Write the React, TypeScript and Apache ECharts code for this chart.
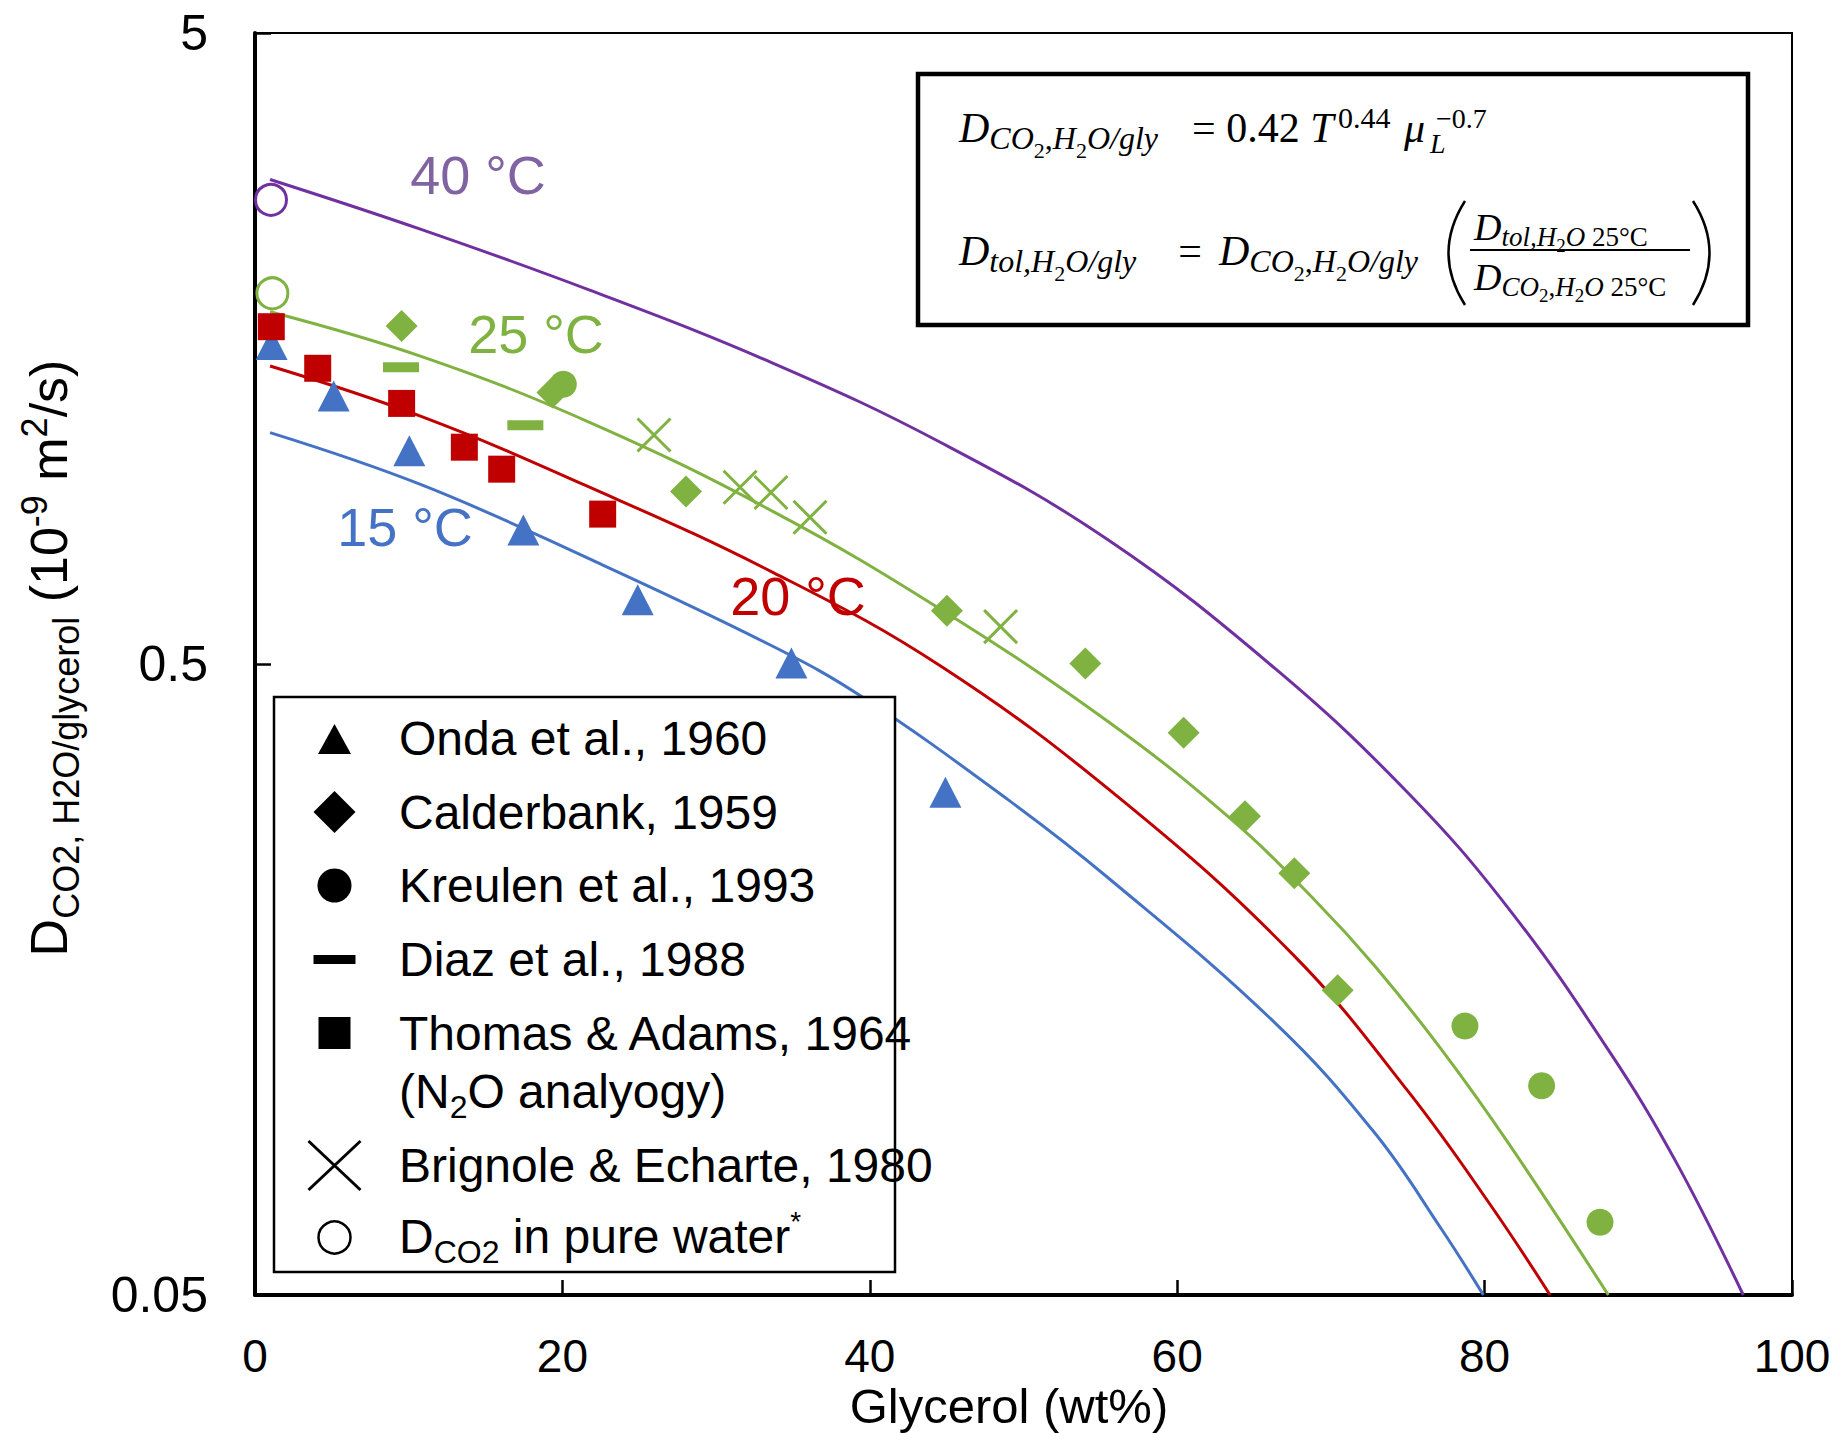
import React, { useEffect, useRef } from "react";
import * as echarts from "echarts";

const BLUE = "#4472C4";
const RED = "#C00000";
const GREEN = "#7FB241";
const PURPLE = "#7030A0";
const PURPLE_LABEL = "#8064A2";
const SANS = '"Liberation Sans", Arial, Helvetica, sans-serif';
const SERIF = '"Liberation Serif", "Times New Roman", serif';

// axes
const xTickValues = [0, 20, 40, 60, 80, 100];
const yTickValues = [0.05, 0.5, 5];

// model curves [glycerol wt%, D (1e-9 m2/s)]
const curve15C = [
  [0.98, 1.163], [10.85, 0.961], [21.69, 0.735], [33.72, 0.533], [39.47, 0.444],
  [49.01, 0.3045], [55.52, 0.229], [66.36, 0.135], [72.87, 0.0902], [77.21, 0.0635], [79.92, 0.05],
];
const curve20C = [
  [0.98, 1.483], [10.85, 1.233], [21.69, 0.955], [33.72, 0.698], [44.68, 0.495],
  [56.39, 0.3045], [67.55, 0.173], [75.04, 0.105], [80.46, 0.069], [84.26, 0.05],
];
const curve25C = [
  [0.98, 1.808], [10.85, 1.535], [21.69, 1.21], [33.72, 0.872], [44.68, 0.609], [55.52, 0.405],
  [63.43, 0.2848], [68.97, 0.211], [72.87, 0.166], [77.21, 0.1223], [81.55, 0.087], [88.05, 0.05],
];
const curve40C = [
  [0.98, 2.93], [10.85, 2.44], [21.69, 1.96], [33.72, 1.498], [44.68, 1.12], [55.52, 0.786],
  [66.36, 0.492], [75.04, 0.312], [81.55, 0.205], [88.05, 0.1223], [92.39, 0.0818], [96.83, 0.05],
];

// experimental data
const onda1960 = [[1.08, 1.605], [5.12, 1.329], [10.04, 1.089], [17.46, 0.815], [24.9, 0.632], [34.9, 0.502], [44.92, 0.313]];
const thomasAdams1964 = [[1.06, 1.712], [4.08, 1.471], [9.54, 1.294], [13.62, 1.103], [16.05, 1.018], [22.62, 0.864]];
const calderbank1959 = [[9.54, 1.717], [19.35, 1.346], [28.04, 0.938], [45.02, 0.607], [54.02, 0.501], [60.42, 0.389], [64.41, 0.287], [67.62, 0.233], [70.44, 0.152]];
const kreulen1993 = [[20.06, 1.388], [78.72, 0.1334], [83.71, 0.1073], [87.51, 0.0652]];
const diaz1988 = [[9.5, 1.476], [17.59, 1.195]];
const brignole1980 = [[25.96, 1.153], [31.56, 0.953], [33.57, 0.935], [36.11, 0.854], [48.51, 0.573]];
const pureWater25C = [[1.13, 1.934]];
const pureWater40C = [[1.04, 2.72]];

const curveLabels = ["15 °C", "20 °C", "25 °C", "40 °C"];
const legendLabels = [
  "Onda et al., 1960",
  "Calderbank, 1959",
  "Kreulen et al., 1993",
  "Diaz et al., 1988",
  "Thomas & Adams, 1964",
];

function txt(x: number, y: number, text: string, style: any, extra: any = {}) {
  return {
    type: "text",
    x,
    y,
    z: 100,
    silent: true,
    ...extra,
    style: { text, fill: "#000", fontFamily: SANS, verticalAlign: "middle", ...style },
  };
}

const eqRich = {
  M: { fontSize: 42, fontStyle: "italic", fontFamily: SERIF, fill: "#000", verticalAlign: "middle" },
  Mu: { fontSize: 42, fontFamily: SERIF, fill: "#000", verticalAlign: "middle" },
  S: { fontSize: 32, fontStyle: "italic", fontFamily: SERIF, fill: "#000", padding: [20, 0, 0, 0], verticalAlign: "middle" },
  Su: { fontSize: 32, fontFamily: SERIF, fill: "#000", padding: [20, 0, 0, 0], verticalAlign: "middle" },
  SS: { fontSize: 22, fontFamily: SERIF, fill: "#000", padding: [44, 0, 0, 0], verticalAlign: "middle" },
  N: { fontSize: 38, fontStyle: "italic", fontFamily: SERIF, fill: "#000", verticalAlign: "middle" },
  NS: { fontSize: 27, fontStyle: "italic", fontFamily: SERIF, fill: "#000", padding: [20, 0, 0, 0], verticalAlign: "middle" },
  NSu: { fontSize: 27, fontFamily: SERIF, fill: "#000", padding: [20, 0, 0, 0], verticalAlign: "middle" },
  NSS: { fontSize: 19, fontFamily: SERIF, fill: "#000", padding: [37, 0, 0, 0], verticalAlign: "middle" },
};

function eq(x: number, y: number, text: string) {
  return txt(x, y, text, { rich: eqRich, lineHeight: 70, align: "left", fontFamily: SERIF });
}

const legRich = {
  m: { fontSize: 48, fontFamily: SANS, fill: "#000", verticalAlign: "middle" },
  sub: { fontSize: 32, fontFamily: SANS, fill: "#000", padding: [32, 0, 0, 0], verticalAlign: "middle" },
  sup: { fontSize: 28, fontFamily: SANS, fill: "#000", padding: [0, 0, 30, 0], verticalAlign: "middle" },
};

export default function App() {
  const ref = useRef<HTMLDivElement>(null);
  useEffect(() => {
    const chart = echarts.init(ref.current!, null, { renderer: "svg" });
    const lineS = (name: string, data: number[][], color: string) => ({
      type: "line",
      name,
      data,
      smooth: 0.4,
      symbol: "none",
      showSymbol: false,
      silent: true,
      lineStyle: { color, width: 3 },
      itemStyle: { color },
      z: 2,
    });
    const scat = (name: string, data: number[][], symbol: string, symbolSize: any, itemStyle: any) => ({
      type: "scatter",
      name,
      data,
      symbol,
      symbolSize,
      silent: true,
      itemStyle: { opacity: 1, ...itemStyle },
      z: 3,
    });
    const legendY = [738, 812, 885, 959, 1033, 1091, 1165, 1236];
    const MX = 334.5;
    const graphic: any[] = [
      // axis titles
      txt(1009, 1406, "Glycerol (wt%)", { fontSize: 49, align: "center" }),
      txt(49, 658, "{m|D}{s|CO2, H2O/glycerol}{m| (10}{p|-9}{m| m}{p|2}{m|/s)}", {
        align: "center",
        lineHeight: 80,
        rich: {
          m: { fontSize: 52, fontFamily: SANS, fill: "#000", verticalAlign: "middle" },
          s: { fontSize: 36, fontFamily: SANS, fill: "#000", padding: [35, 0, 0, 0], verticalAlign: "middle" },
          p: { fontSize: 36, fontFamily: SANS, fill: "#000", padding: [0, 0, 30, 0], verticalAlign: "middle" },
        },
      }, { rotation: Math.PI / 2 }),
      // curve labels
      txt(405, 527, curveLabels[0], { fontSize: 54, fill: BLUE, align: "center" }),
      txt(798, 596, curveLabels[1], { fontSize: 54, fill: RED, align: "center" }),
      txt(536, 334, curveLabels[2], { fontSize: 54, fill: GREEN, align: "center" }),
      txt(478, 175, curveLabels[3], { fontSize: 54, fill: PURPLE_LABEL, align: "center" }),
      // legend box
      { type: "rect", z: 90, silent: true, shape: { x: 274, y: 697, width: 621, height: 575 }, style: { fill: "#fff", stroke: "#000", lineWidth: 2.5 } },
      { type: "polygon", z: 100, silent: true, shape: { points: [[MX, 724], [MX + 16.5, 754], [MX - 16.5, 754]] }, style: { fill: "#000" } },
      { type: "polygon", z: 100, silent: true, shape: { points: [[MX, 791], [MX + 21, 812], [MX, 833], [MX - 21, 812]] }, style: { fill: "#000" } },
      { type: "circle", z: 100, silent: true, shape: { cx: MX, cy: 885.5, r: 17 }, style: { fill: "#000" } },
      { type: "rect", z: 100, silent: true, shape: { x: MX - 21, y: 955, width: 42, height: 9 }, style: { fill: "#000" } },
      { type: "rect", z: 100, silent: true, shape: { x: MX - 16, y: 1017, width: 32, height: 32 }, style: { fill: "#000" } },
      { type: "line", z: 100, silent: true, shape: { x1: MX - 26, y1: 1141, x2: MX + 26, y2: 1190 }, style: { stroke: "#000", lineWidth: 3 } },
      { type: "line", z: 100, silent: true, shape: { x1: MX + 26, y1: 1141, x2: MX - 26, y2: 1190 }, style: { stroke: "#000", lineWidth: 3 } },
      { type: "circle", z: 100, silent: true, shape: { cx: MX, cy: 1237.5, r: 16 }, style: { fill: "none", stroke: "#000", lineWidth: 2.5 } },
      txt(399, legendY[0], legendLabels[0], { fontSize: 48 }),
      txt(399, legendY[1], legendLabels[1], { fontSize: 48 }),
      txt(399, legendY[2], legendLabels[2], { fontSize: 48 }),
      txt(399, legendY[3], legendLabels[3], { fontSize: 48 }),
      txt(399, legendY[4], legendLabels[4], { fontSize: 48 }),
      txt(399, legendY[5], "{m|(N}{sub|2}{m|O analyogy)}", { rich: legRich, lineHeight: 70 }),
      txt(399, legendY[6], "Brignole & Echarte, 1980", { fontSize: 48 }),
      txt(399, legendY[7], "{m|D}{sub|CO2}{m| in pure water}{sup|*}", { rich: legRich, lineHeight: 70 }),
      // equation box
      { type: "rect", z: 90, silent: true, shape: { x: 918, y: 74, width: 830, height: 251 }, style: { fill: "#fff", stroke: "#000", lineWidth: 4.5 } },
      eq(959, 128, "{M|D}{S|CO}{SS|2}{Su|,}{S|H}{SS|2}{S|O/gly}"),
      eq(1192, 128, "{Mu|= 0.42 }{M|T}"),
      txt(1338, 117, "0.44", { fontSize: 30, fontFamily: SERIF }),
      txt(1404, 128, "μ", { fontSize: 42, fontFamily: SERIF, fontStyle: "italic" }),
      txt(1430, 143, "L", { fontSize: 28, fontFamily: SERIF, fontStyle: "italic" }),
      txt(1436, 118, "−0.7", { fontSize: 28, fontFamily: SERIF }),
      eq(959, 251, "{M|D}{S|tol,H}{SS|2}{S|O/gly}"),
      txt(1190, 251, "=", { fontSize: 42, fontFamily: SERIF, align: "center" }),
      eq(1219, 251, "{M|D}{S|CO}{SS|2}{Su|,}{S|H}{SS|2}{S|O/gly}"),
      { type: "bezierCurve", z: 100, silent: true, shape: { x1: 1465, y1: 201, cpx1: 1432, cpy1: 253, x2: 1465, y2: 305 }, style: { stroke: "#000", lineWidth: 2.5, fill: "none" } },
      { type: "bezierCurve", z: 100, silent: true, shape: { x1: 1693, y1: 201, cpx1: 1726, cpy1: 253, x2: 1693, y2: 305 }, style: { stroke: "#000", lineWidth: 2.5, fill: "none" } },
      eq(1474, 227, "{N|D}{NS|tol,H}{NSS|2}{NS|O}{NSu| 25°C}"),
      { type: "line", z: 100, silent: true, shape: { x1: 1470, y1: 250, x2: 1690, y2: 250 }, style: { stroke: "#000", lineWidth: 2 } },
      eq(1474, 277, "{N|D}{NS|CO}{NSS|2}{NSu|,}{NS|H}{NSS|2}{NS|O}{NSu| 25°C}"),
    ];

    chart.setOption({
      animation: false,
      backgroundColor: "#fff",
      textStyle: { fontFamily: SANS },
      grid: { left: 255, right: 42, top: 33, bottom: 138, show: true, borderColor: "#000", borderWidth: 2 },
      xAxis: {
        type: "value",
        min: xTickValues[0],
        max: xTickValues[xTickValues.length - 1],
        interval: 20,
        axisLine: { show: true, onZero: false, lineStyle: { color: "#000", width: 4 } },
        axisTick: { show: true, inside: true, length: 15, lineStyle: { color: "#000", width: 2.5 } },
        axisLabel: { margin: 38, fontSize: 46, color: "#000", fontFamily: SANS },
        splitLine: { show: false },
      },
      yAxis: {
        type: "log",
        logBase: 10,
        min: yTickValues[0],
        max: yTickValues[yTickValues.length - 1],
        axisLine: { show: true, onZero: false, lineStyle: { color: "#000", width: 4 } },
        axisTick: { show: true, inside: true, length: 16, lineStyle: { color: "#000", width: 2.5 }, customValues: yTickValues },
        axisLabel: {
          customValues: yTickValues,
          margin: 47,
          fontSize: 50,
          color: "#000",
          fontFamily: SANS,
          formatter: (v: number) => String(Number(Number(v).toPrecision(3))),
        },
        minorTick: { show: false },
        splitLine: { show: false },
      },
      series: [
        lineS("15 °C", curve15C, BLUE),
        lineS("20 °C", curve20C, RED),
        lineS("25 °C", curve25C, GREEN),
        lineS("40 °C", curve40C, PURPLE),
        scat("Onda et al., 1960", onda1960, "triangle", [32, 31], { color: BLUE }),
        scat("Thomas & Adams, 1964", thomasAdams1964, "rect", 27, { color: RED }),
        scat("Calderbank, 1959", calderbank1959, "diamond", 32, { color: GREEN }),
        scat("Kreulen et al., 1993", kreulen1993, "circle", 27, { color: GREEN }),
        scat("Diaz et al., 1988", diaz1988, "rect", [36, 10], { color: GREEN }),
        scat("Brignole & Echarte, 1980", brignole1980, "path://M0,0L10,10M10,0L0,10", 33, { color: GREEN, borderColor: GREEN, borderWidth: 3 }),
        scat("Pure water 25 °C", pureWater25C, "circle", 31, { color: "rgba(0,0,0,0)", borderColor: GREEN, borderWidth: 3 }),
        scat("Pure water 40 °C", pureWater40C, "circle", 31, { color: "rgba(0,0,0,0)", borderColor: PURPLE, borderWidth: 3 }),
      ],
      graphic,
    });
    return () => chart.dispose();
  }, []);
  return (
    <div
      ref={ref}
      style={{ position: "fixed", left: 0, top: 0, width: 1834, height: 1433, background: "#fff" }}
    />
  );
}
